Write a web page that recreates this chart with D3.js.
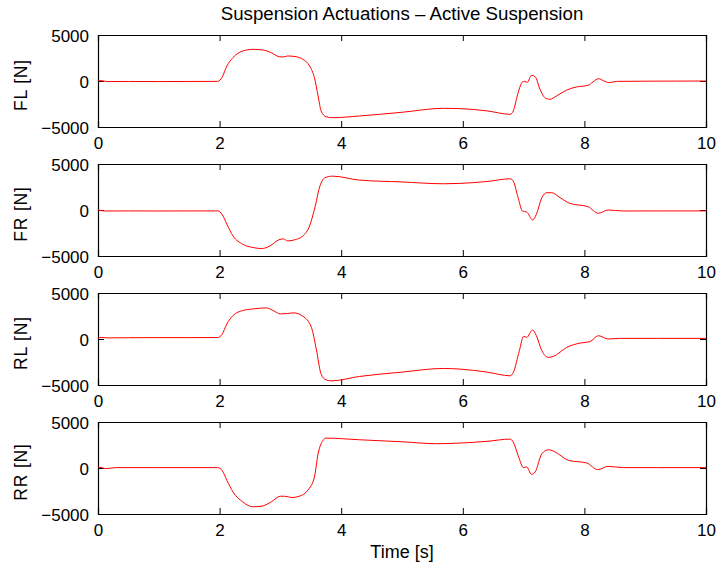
<!DOCTYPE html>
<html>
<head>
<meta charset="utf-8">
<script src="https://cdn.jsdelivr.net/npm/d3@7"></script>
<style>
  body { margin: 0; background: #fff; }
  svg { display: block; font-family: "Liberation Sans", Arial, sans-serif; }
</style>
</head>
<body>
<svg id="chart"></svg>
<script>
// values: [time s, force N]
const flData = [[0, 0], [0.05, 40], [0.15, -60], [0.5, -50], [1, -60], [1.5, -50], [1.97, -40],
  [2.04, 400], [2.12, 1630], [2.22, 2540], [2.38, 3260], [2.55, 3440], [2.71, 3370], [2.85, 3080],
  [2.98, 2640], [3.04, 2610], [3.12, 2720], [3.26, 2640], [3.37, 2355], [3.48, 1630], [3.56, 360],
  [3.62, -1630], [3.67, -3260], [3.75, -3880], [3.86, -3990], [4.3, -3800], [5.0, -3400], [5.68, -2970],
  [5.95, -3000], [6.4, -3250], [6.78, -3620], [6.83, -3260], [6.91, -1270], [6.98, -110], [7.02, -40],
  [7.06, -150], [7.13, 620], [7.19, 470], [7.27, -900], [7.35, -1810], [7.43, -1990], [7.54, -1630],
  [7.71, -980], [7.87, -650], [8.06, -470], [8.14, -110], [8.23, 250], [8.31, 40], [8.41, -180],
  [8.53, -40], [9.0, -20], [9.5, -10], [10, 0]];

const frData = [[0, 0], [0.05, -60], [0.15, -110], [0.5, -100], [1, -110], [1.5, -100], [1.97, -100],
  [2.04, -470], [2.12, -1550], [2.22, -2820], [2.38, -3720], [2.55, -4080], [2.69, -4190], [2.83, -3900],
  [2.97, -3250], [3.05, -3140], [3.12, -3360], [3.23, -3250], [3.37, -2820], [3.48, -1730], [3.56, 70],
  [3.65, 2600], [3.73, 3500], [3.86, 3680], [4.3, 3250], [5.0, 3050], [5.68, 2850], [5.95, 2890],
  [6.4, 3100], [6.78, 3390], [6.83, 3140], [6.91, 1340], [6.98, -110], [7.05, -220], [7.15, -1080],
  [7.21, -470], [7.30, 1340], [7.38, 1880], [7.46, 1880], [7.6, 1340], [7.76, 720], [8.06, 360],
  [8.23, -360], [8.39, 0], [8.64, -110], [9.2, -100], [10, -100]];

const rlData = [[0, 80], [0.05, 180], [0.15, 120], [0.5, 140], [1, 150], [1.5, 150], [1.97, 160],
  [2.04, 500], [2.12, 1640], [2.22, 2550], [2.38, 3090], [2.55, 3270], [2.77, 3380], [2.88, 3090],
  [3.0, 2730], [3.10, 2760], [3.22, 2840], [3.37, 2470], [3.51, 1270], [3.59, -1090], [3.67, -3820],
  [3.75, -4440], [3.84, -4550], [4.3, -4070], [5.0, -3600], [5.68, -3200], [5.95, -3270], [6.4, -3600],
  [6.78, -4000], [6.83, -3640], [6.93, -1270], [7.0, 290], [7.05, 180], [7.15, 980], [7.21, 360],
  [7.30, -1270], [7.41, -2000], [7.49, -1890], [7.71, -910], [7.93, -440], [8.09, -290], [8.23, 360],
  [8.39, 0], [8.58, 70], [9.2, 70], [10, 70]];

const rrData = [[0, 110], [0.05, 60], [0.12, -70], [0.3, 40], [1, 40], [1.5, 40], [1.97, 40],
  [2.04, -250], [2.12, -1340], [2.22, -2600], [2.38, -3680], [2.55, -4220], [2.71, -4120], [2.85, -3680],
  [3.0, -3070], [3.07, -3070], [3.19, -3210], [3.31, -3070], [3.45, -2420], [3.56, -970], [3.62, 1550],
  [3.70, 3000], [3.75, 3250], [4.3, 3070], [5.0, 2850], [5.57, 2640], [5.95, 2710], [6.4, 2900],
  [6.78, 3140], [6.83, 2820], [6.91, 1370], [7.0, 40], [7.05, 110], [7.13, -690], [7.19, -430],
  [7.30, 1550], [7.41, 1990], [7.49, 1840], [7.74, 830], [8.04, 540], [8.22, -180], [8.39, 180],
  [8.64, 40], [9.2, 40], [10, 40]];

const panelNames = ["FL [N]", "FR [N]", "RL [N]", "RR [N]"];
const panelData = [flData, frData, rlData, rrData];
const xTicks = [0, 2, 4, 6, 8, 10];
const yTicks = [-5000, 0, 5000];
const titleText = "Suspension Actuations \u2013 Active Suspension";
const xLabelText = "Time [s]";

const width = 719, height = 569;
const left = 98, right = 706;
const panelTop = [35, 164, 293, 422];
const panelH = 92;

const svg = d3.select("#chart").attr("width", width).attr("height", height);

const x = d3.scaleLinear().domain([0, 10]).range([left, right]);
const fmt = d => d < 0 ? "\u2212" + Math.abs(d) : String(d);

panelData.forEach((data, i) => {
    const top = panelTop[i];
    const y = d3.scaleLinear().domain([-5000, 5000]).range([top + panelH, top]);
    const g = svg.append("g");

    // inward ticks on all four sides, like the original
    g.append("g")
        .attr("transform", `translate(0,${top + panelH})`)
        .call(d3.axisBottom(x).tickValues(xTicks).tickSize(-6).tickPadding(10).tickFormat(fmt));
    g.append("g")
        .attr("transform", `translate(0,${top})`)
        .call(d3.axisTop(x).tickValues(xTicks).tickSize(-6).tickFormat(""));
    g.append("g")
        .attr("class", "yleft")
        .attr("transform", `translate(${left},0)`)
        .call(d3.axisLeft(y).tickValues(yTicks).tickSize(-6).tickPadding(9).tickFormat(fmt));
    g.append("g")
        .attr("transform", `translate(${right},0)`)
        .call(d3.axisRight(y).tickValues(yTicks).tickSize(-6).tickFormat(""));

    g.selectAll(".domain").attr("stroke", "#000").attr("stroke-width", 1.2);
    g.selectAll(".tick line").attr("stroke", "#000").attr("stroke-width", 1);
    g.selectAll(".tick text").attr("fill", "#000").style("font-size", "17px");
    g.selectAll(".yleft .tick text").attr("dy", "0.4em");

    const line = d3.line()
        .x(d => x(d[0]))
        .y(d => y(d[1]))
        .curve(d3.curveMonotoneX);

    g.append("path")
        .datum(data)
        .attr("d", line)
        .attr("fill", "none")
        .attr("stroke", "#ff0000")
        .attr("stroke-width", 1);

    g.append("text")
        .attr("transform", `translate(27,${top + panelH / 2 + 4}) rotate(-90)`)
        .attr("text-anchor", "middle")
        .style("font-size", "17.5px")
        .style("letter-spacing", "0.8px")
        .text(panelNames[i]);
});

svg.append("text")
    .attr("x", (left + right) / 2)
    .attr("y", 20)
    .attr("text-anchor", "middle")
    .style("font-size", "18.7px")
    .text(titleText);

svg.append("text")
    .attr("x", (left + right) / 2)
    .attr("y", 558)
    .attr("text-anchor", "middle")
    .style("font-size", "18px")
    .text(xLabelText);
</script>
</body>
</html>
